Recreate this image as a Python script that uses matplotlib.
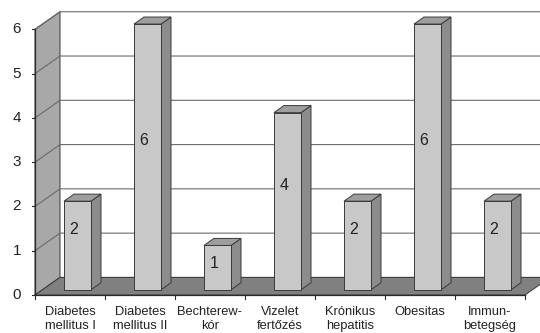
import matplotlib.pyplot as plt
from matplotlib.patches import Polygon

plt.rcParams['font.family'] = ['Liberation Sans', 'DejaVu Sans']

categories = ['Diabetes\nmellitus I', 'Diabetes\nmellitus II', 'Bechterew-\nkór',
              'Vizelet\nfertőzés', 'Krónikus\nhepatitis', 'Obesitas', 'Immun-\nbetegség']
values = [2, 6, 1, 4, 2, 6, 2]
yticks = [0, 1, 2, 3, 4, 5, 6]

# oblique offset of the full depth, in category / value units
DX, DY = 0.357, 0.397
# bar placement inside a category slot and along the depth
BAR_L, BAR_R = 0.307, 0.693
Z0, Z1 = 0.3, 0.7
YMAX = 6

def proj(x, v, z):
    return (x + DX * z, v + DY * z)

def poly(ax, pts, fc, ec='#3a3a3a', lw=0.7, zo=1):
    ax.add_patch(Polygon([proj(*p) for p in pts], closed=True, fc=fc, ec=ec,
                         lw=lw, zorder=zo, joinstyle='miter'))

fig = plt.figure(figsize=(5.4, 3.33), dpi=100)
ax = fig.add_axes([0, 0, 1, 1])
ax.set_xlim(-0.5, 505 / 70)
ax.set_ylim(-38 / 44.28, 295 / 44.28)
ax.axis('off')

n = len(categories)
right = n + 1  # back wall runs past the right edge

# back wall
poly(ax, [(0, 0, 1), (right, 0, 1), (right, YMAX, 1), (0, YMAX, 1)], 'white', ec='none', zo=0)
# left wall
poly(ax, [(0, 0, 0), (0, 0, 1), (0, YMAX, 1), (0, YMAX, 0)], '#a8a8a8', ec='#3a3a3a', zo=1)

# gridlines on back and left wall
for t in yticks:
    x0, y0 = proj(0, t, 0)
    x1, y1 = proj(0, t, 1)
    x2, y2 = proj(right, t, 1)
    ax.plot([x0, x1, x2], [y0, y1, y2], color='#6a6a6a', lw=0.8, zorder=2)

# floor
poly(ax, [(0, 0, 0), (n, 0, 0), (n, 0, 1), (right, 0, 1), (0, 0, 1)], '#808080', ec='#3a3a3a', zo=3)

# bars
for i, v in enumerate(values):
    xl, xr = i + BAR_L, i + BAR_R
    # side
    poly(ax, [(xr, 0, Z0), (xr, 0, Z1), (xr, v, Z1), (xr, v, Z0)], '#8c8c8c', zo=4)
    # top
    poly(ax, [(xl, v, Z0), (xr, v, Z0), (xr, v, Z1), (xl, v, Z1)], '#9e9e9e', zo=4)
    # front
    poly(ax, [(xl, 0, Z0), (xr, 0, Z0), (xr, v, Z0), (xl, v, Z0)], '#c8c8c8', zo=5)
    lx, ly = proj(i + 0.5, min(v / 2 + 0.42, v - 0.34), 0.15)
    ax.text(lx, ly, str(v), ha='center', va='center', fontsize=11.5, color='#222222', zorder=6)

# front value axis with ticks
ax.plot([0, 0], [0, YMAX], color='#2a2a2a', lw=0.9, zorder=6)
for t in yticks:
    ax.plot([-0.05, 0], [t, t], color='#2a2a2a', lw=0.8, zorder=6)
    ax.text(-0.2, t, str(t), ha='right', va='center', fontsize=11, color='#222222')

# category axis ticks and labels (each line placed on its own baseline)
ax.plot([0, n], [0, 0], color='#2a2a2a', lw=0.9, zorder=6)
for i in range(n + 1):
    ax.plot([i, i], [0, -0.09], color='#2a2a2a', lw=0.8, zorder=6)
for i, c in enumerate(categories):
    for k, line in enumerate(c.split('\n')):
        ax.text(i + 0.5, -0.452 - 0.316 * k, line, ha='center', va='baseline',
                fontsize=9.3, color='#222222')

fig.savefig('out.png', dpi=100)
